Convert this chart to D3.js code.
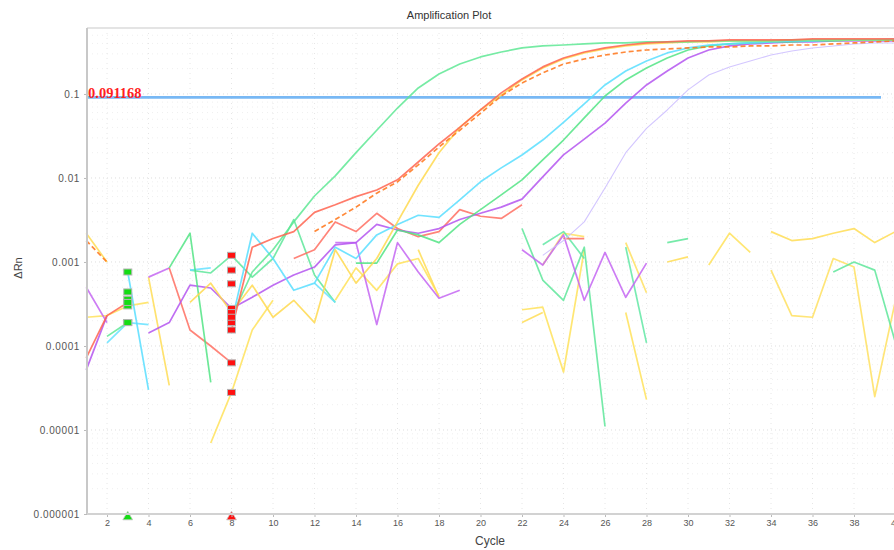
<!DOCTYPE html>
<html>
<head>
<meta charset="utf-8">
<script src="https://cdn.jsdelivr.net/npm/d3@7"></script>
<style>
body { margin: 0; background: #fff; }
.axis text { font-family: "Liberation Sans", Arial, sans-serif; fill: #555; }
.axis path { display: none; }
.axis line { stroke: #bbb; }
</style>
</head>
<body>
<script>
// cycles on the x axis
var cycles = d3.range(1, 41);

// delta Rn per cycle, null where the value drops to zero or below
var greenEarly = [null, 1.3e-4, 1.9e-4, null, null, null, null, 2.2e-4, 7.6e-4, 1.4e-3,
    3.0e-3, 6.1e-3, 0.0106, 0.020, 0.037, 0.068, 0.118, 0.173, 0.227, 0.276,
    0.316, 0.353, 0.373, 0.383, 0.394, 0.405, 0.405, 0.416, 0.416, 0.416,
    0.428, 0.428, 0.428, 0.428, 0.44, 0.44, 0.44, 0.44, 0.44, 0.44];
var red = [7.2e-5, 2.3e-4, 3.3e-4, null, null, null, null, 1.55e-4, 1.5e-3, 1.9e-3,
    2.3e-3, 3.9e-3, 4.8e-3, 6.0e-3, 7.2e-3, 9.5e-3, 0.0155, 0.0254, 0.040, 0.0645,
    0.103, 0.151, 0.21, 0.268, 0.316, 0.353, 0.383, 0.405, 0.416, 0.428,
    0.428, 0.44, 0.44, 0.44, 0.44, 0.452, 0.452, 0.452, 0.452, 0.452];
var orange = [1.8e-3, 1.0e-3, null, null, null, null, null, 5.5e-4, null, null,
    null, 2.3e-3, 3.2e-3, 4.5e-3, 6.6e-3, 9.0e-3, 0.0143, 0.0234, 0.037, 0.059,
    0.0946, 0.135, 0.178, 0.227, 0.261, 0.291, 0.316, 0.334, 0.344, 0.353,
    0.363, 0.363, 0.373, 0.373, 0.383, 0.383, 0.394, 0.405, 0.416, 0.428];
var yellow = [null, null, null, null, null, 3.3e-4, 5.6e-4, 2.5e-4, 5.3e-4, 2.2e-4,
    3.5e-4, 1.9e-4, 1.4e-3, 5.6e-4, 1.1e-3, 3.0e-3, 8.2e-3, 0.020, 0.040, 0.0645,
    0.097, 0.147, 0.204, 0.261, 0.308, 0.344, 0.373, 0.394, 0.405, 0.416,
    0.416, 0.428, 0.428, 0.428, 0.44, 0.44, 0.44, 0.44, 0.44, 0.44];
var cyan = [null, null, 7.6e-4, 3.0e-5, null, null, null, 1.9e-4, 2.2e-3, 1.1e-3,
    4.6e-4, 5.6e-4, 1.5e-3, 1.1e-3, 2.1e-3, 2.8e-3, 3.6e-3, 3.4e-3, 5.5e-3, 9.0e-3,
    0.0132, 0.0188, 0.0283, 0.046, 0.076, 0.128, 0.188, 0.247, 0.308, 0.353,
    0.383, 0.394, 0.405, 0.416, 0.428, 0.428, 0.44, 0.44, 0.44, 0.452];
var greenLate = [null, null, null, null, 8.5e-4, 2.2e-3, 3.7e-5, null, null, null,
    null, null, null, 9.7e-4, 9.7e-4, 2.4e-3, 2.1e-3, 1.7e-3, 2.8e-3, 4.2e-3,
    6.3e-3, 9.5e-3, 0.0164, 0.0283, 0.052, 0.0946, 0.147, 0.204, 0.268, 0.334,
    0.373, 0.394, 0.405, 0.416, 0.416, 0.428, 0.428, 0.44, 0.44, 0.44];
var purple = [5.2e-5, 2.3e-4, null, 1.43e-4, 1.9e-4, 5.3e-4, 4.9e-4, 2.8e-4, 3.8e-4, 5.3e-4,
    7.0e-4, 8.7e-4, 1.6e-3, 1.7e-3, 2.8e-3, 2.4e-3, 2.2e-3, 2.5e-3, 3.2e-3, 3.8e-3,
    4.5e-3, 5.6e-3, 0.0103, 0.0188, 0.029, 0.045, 0.078, 0.128, 0.188, 0.268,
    0.334, 0.373, 0.394, 0.405, 0.416, 0.416, 0.428, 0.428, 0.428, 0.428];
var lavender = [null, null, null, null, null, null, null, null, null, null,
    null, null, null, null, null, null, null, null, null, null,
    null, null, 1.2e-3, 1.8e-3, 3.0e-3, 7.6e-3, 0.020, 0.039, 0.0645, 0.112,
    0.168, 0.21, 0.247, 0.291, 0.325, 0.353, 0.373, 0.394, 0.405, 0.405];
var yellowNoise1 = [2.2e-4, 2.3e-4, 3.0e-4, 3.3e-4, null, null, 7.0e-6, 2.8e-5, 1.55e-4, 3.5e-4,
    null, null, 3.5e-4, 8.5e-4, 4.6e-4, 9.5e-4, 1.1e-3, 3.9e-4, null, null,
    null, 2.7e-4, 2.9e-4, 4.9e-5, 1.4e-3, null, 2.5e-4, 2.3e-5, null, null,
    9.2e-4, 2.2e-3, 1.3e-3, null, null, null, null, null, null, null];
var salmon = [null, null, 3.6e-4, null, 8.5e-4, 1.55e-4, 1.0e-4, 6.3e-5, null, null,
    1.1e-3, 1.4e-3, 3.0e-3, 2.3e-3, 3.8e-3, 2.5e-3, 2.0e-3, 2.3e-3, 4.2e-3, 3.5e-3,
    3.3e-3, 4.8e-3, null, 1.9e-3, 1.9e-3, null, null, null, null, null,
    null, null, null, null, null, null, null, null, null, null];
var yellowNoise2 = [2.2e-3, 1.0e-3, null, 6.6e-4, 3.4e-5, null, null, null, null, null,
    null, null, null, null, null, null, 1.4e-3, 3.8e-4, null, null,
    null, 1.9e-4, 2.5e-4, null, null, null, null, null, 1.0e-3, 1.15e-3,
    null, null, null, 2.3e-3, 1.8e-3, 1.9e-3, 2.2e-3, 2.5e-3, 1.7e-3, 2.3e-3];
var greenNoise1 = [null, null, 4.4e-4, null, null, 8.0e-4, 7.4e-4, 1.2e-3, 6.6e-4, 1.1e-3,
    3.2e-3, 7.0e-4, 3.3e-4, null, null, null, null, null, null, null,
    null, 2.5e-3, 6.1e-4, 3.5e-4, 1.5e-3, 1.1e-5, null, null, 1.7e-3, 1.9e-3,
    null, null, null, null, null, null, 7.6e-4, 1.0e-3, 8.0e-4, 1.09e-4];
var purpleNoise = [5.0e-4, 1.9e-4, null, 6.6e-4, 8.5e-4, null, null, 8.0e-4, null, null,
    null, null, 1.7e-3, 1.7e-3, 1.8e-4, 1.7e-3, 7.6e-4, 3.7e-4, 4.6e-4, null,
    null, 1.4e-3, 9.2e-4, 2.1e-3, 3.5e-4, 1.3e-3, 3.8e-4, 9.7e-4, null, null,
    null, null, null, null, null, null, null, null, null, null];
var yellowNoise3 = [null, null, null, null, null, null, null, null, null, null,
    null, null, null, null, null, null, null, null, null, null,
    null, null, 9.2e-4, 2.2e-3, 2.0e-3, null, 1.7e-3, 4.3e-4, null, null,
    null, null, null, 8.0e-4, 2.3e-4, 2.2e-4, 1.1e-3, 8.7e-4, 2.5e-5, 3.5e-4];
var greenNoise2 = [null, null, null, null, null, null, null, null, null, null,
    null, null, null, null, null, null, null, null, null, null,
    null, null, 1.6e-3, 2.3e-3, 1.1e-3, null, 1.5e-3, 1.09e-4, null, null,
    null, null, null, null, null, null, null, null, null, null];
var cyanNoise = [null, 1.09e-4, 1.9e-4, 1.8e-4, null, 8.0e-4, 8.5e-4, null, null, null,
    null, 5.6e-4, 3.3e-4, null, null, null, null, null, null, null,
    null, null, null, null, null, null, null, null, null, null,
    null, null, null, null, null, null, null, null, null, null];

var threshold = 0.091168;
var baselineStart = 3, baselineEnd = 8;

var xTicks = d3.range(2, 41, 2);
var yTicks = [1e-6, 1e-5, 1e-4, 1e-3, 1e-2, 1e-1];
var yTickLabels = ['0.000001', '0.00001', '0.0001', '0.001', '0.01', '0.1'];

var series = [
    {values: yellowNoise1, color: '#ffe25a'},
    {values: yellowNoise2, color: '#ffdd55'},
    {values: yellowNoise3, color: '#ffe060'},
    {values: greenNoise1, color: '#5ee69a'},
    {values: greenNoise2, color: '#62e8a4'},
    {values: purpleNoise, color: '#c466f2'},
    {values: cyanNoise, color: '#66e2ff'},
    {values: salmon, color: '#ff6e62'},
    {values: lavender, color: '#cbbcff', width: 1.1},
    {values: purple, color: '#b455f0'},
    {values: greenLate, color: '#52e485'},
    {values: cyan, color: '#58deff'},
    {values: yellow, color: '#ffd94f'},
    {values: greenEarly, color: '#5ee894'},
    {values: red, color: '#ff6450'},
    {values: orange, color: '#ff7418', dash: '5,3'}
];

var width = 894, height = 550;
var plotLeft = 87, plotTop = 28, plotBottom = 514;

var x = d3.scaleLinear()
    .domain([1, 40])
    .range([86.25, 895.5]);

var y = d3.scaleLog()
    .domain([1e-6, 0.61])
    .range([plotBottom, plotTop]);

var svg = d3.select('body')
    .append('svg')
    .attr('width', width)
    .attr('height', height);

// grid
var minor = [];
yTicks.forEach(function(t) {
    for (var k = 2; k < 10; k++) {
        if (t * k < 0.61) minor.push(t * k);
    }
});

svg.append('g').selectAll('line')
    .data(minor)
    .enter().append('line')
    .attr('x1', plotLeft).attr('x2', width)
    .attr('y1', function(d) { return y(d); })
    .attr('y2', function(d) { return y(d); })
    .attr('stroke', '#efefef')
    .attr('stroke-dasharray', '1,4');

svg.append('g').selectAll('line')
    .data(yTicks)
    .enter().append('line')
    .attr('x1', plotLeft).attr('x2', width)
    .attr('y1', function(d) { return y(d); })
    .attr('y2', function(d) { return y(d); })
    .attr('stroke', '#dedede')
    .attr('stroke-dasharray', '1,3');

svg.append('g').selectAll('line')
    .data(xTicks)
    .enter().append('line')
    .attr('x1', function(d) { return x(d); })
    .attr('x2', function(d) { return x(d); })
    .attr('y1', plotTop).attr('y2', plotBottom)
    .attr('stroke', '#e6e6e6')
    .attr('stroke-dasharray', '1,4');

// frame
svg.append('line')
    .attr('x1', plotLeft).attr('x2', width)
    .attr('y1', plotTop).attr('y2', plotTop)
    .attr('stroke', '#e4e4e4').attr('stroke-width', 2);

// threshold
svg.append('line')
    .attr('x1', plotLeft).attr('x2', 881)
    .attr('y1', y(threshold)).attr('y2', y(threshold))
    .attr('stroke', '#78b8f4')
    .attr('stroke-width', 2.6);

// curves
var line = d3.line()
    .defined(function(d) { return d != null; })
    .x(function(d, i) { return x(cycles[i]); })
    .y(function(d) { return y(d); });

svg.append('g').selectAll('path')
    .data(series)
    .enter().append('path')
    .attr('d', function(s) { return line(s.values); })
    .attr('fill', 'none')
    .attr('stroke', function(s) { return s.color; })
    .attr('stroke-width', function(s) { return s.width || 1.7; })
    .attr('stroke-dasharray', function(s) { return s.dash || null; })
    .attr('stroke-opacity', 0.85)
    .attr('stroke-linejoin', 'round');

svg.append('text')
    .attr('x', 88)
    .attr('y', y(threshold) + 1)
    .style('font-family', '"Liberation Serif", "Times New Roman", serif')
    .style('font-size', '14.5px')
    .style('font-weight', 'bold')
    .attr('fill', '#ff1f1f')
    .text(threshold.toString());

// baseline start / end markers
function markers(cycle, color) {
    var pts = series.filter(function(s) { return s.values[cycle - 1] != null; });
    svg.append('g').selectAll('rect')
        .data(pts)
        .enter().append('rect')
        .attr('x', x(cycle) - 4)
        .attr('y', function(s) { return y(s.values[cycle - 1]) - 3; })
        .attr('width', 8)
        .attr('height', 6)
        .attr('fill', color)
        .attr('stroke', '#b4b4b4')
        .attr('stroke-width', 1);
    svg.append('path')
        .attr('d', d3.symbol().type(d3.symbolTriangle).size(42)())
        .attr('transform', 'translate(' + x(cycle) + ',' + (plotBottom + 3) + ')')
        .attr('fill', color)
        .attr('stroke', '#c8c8c8')
        .attr('stroke-width', 0.8);
}
markers(baselineStart, '#14dc14');
markers(baselineEnd, '#ff1010');

// axes
svg.append('g')
    .attr('class', 'axis')
    .attr('transform', 'translate(' + plotLeft + ',0)')
    .call(d3.axisLeft(y).tickValues(yTicks)
        .tickFormat(function(d, i) { return yTickLabels[i]; })
        .tickSize(3).tickPadding(4))
    .selectAll('text')
    .style('font-size', '10px')
    .style('letter-spacing', '0.6px');

svg.append('g')
    .attr('class', 'axis')
    .attr('transform', 'translate(0,' + plotBottom + ')')
    .call(d3.axisBottom(x).tickValues(xTicks).tickSize(3).tickPadding(3))
    .selectAll('text')
    .style('font-size', '9px');

svg.append('line')
    .attr('x1', plotLeft).attr('x2', plotLeft)
    .attr('y1', plotTop).attr('y2', plotBottom)
    .attr('stroke', '#c8c8c8').attr('stroke-width', 2);

svg.append('line')
    .attr('x1', plotLeft).attr('x2', width)
    .attr('y1', plotBottom).attr('y2', plotBottom)
    .attr('stroke', '#d2d2d2').attr('stroke-width', 2);

// titles
svg.append('text')
    .attr('x', 449).attr('y', 19)
    .style('text-anchor', 'middle')
    .style('font-family', '"Liberation Sans", Arial, sans-serif')
    .style('font-size', '11px')
    .attr('fill', '#333')
    .text('Amplification Plot');

svg.append('text')
    .attr('x', 490).attr('y', 545)
    .style('text-anchor', 'middle')
    .style('font-family', '"Liberation Sans", Arial, sans-serif')
    .style('font-size', '12px')
    .attr('fill', '#444')
    .text('Cycle');

svg.append('text')
    .attr('transform', 'rotate(-90)')
    .attr('x', -268).attr('y', 22)
    .style('text-anchor', 'middle')
    .style('font-family', '"Liberation Sans", Arial, sans-serif')
    .style('font-size', '11px')
    .attr('fill', '#444')
    .text('ΔRn');
</script>
</body>
</html>
